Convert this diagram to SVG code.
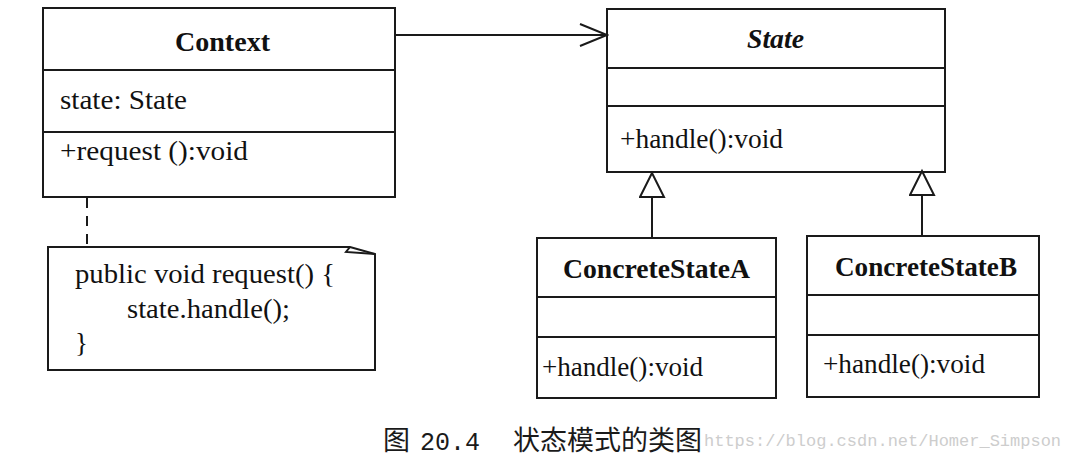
<svg xmlns="http://www.w3.org/2000/svg" width="1076" height="458" viewBox="0 0 1076 458">
<style>
.box{fill:none;stroke:#1a1a1a;stroke-width:2}
.ln{stroke:#1a1a1a;stroke-width:2;fill:none}
.t{font-family:"Liberation Serif","Times New Roman",serif;font-size:27px;fill:#111}
.b{font-weight:bold}
.i{font-style:italic}
.cap{font-family:"Noto Sans CJK SC",sans-serif;font-size:27px;fill:#1a1a1a}
.num{font-family:"Liberation Mono",monospace;font-size:25px;fill:#1a1a1a}
.wm{font-family:"Liberation Mono",monospace;font-size:17px;fill:#cdcdcd}
</style>
<defs>
<marker id="open" markerWidth="30" markerHeight="26" refX="28" refY="12" orient="auto" markerUnits="userSpaceOnUse">
<path d="M1,1 L28,12 L1,23" fill="none" stroke="#1a1a1a" stroke-width="2"/>
</marker>
<marker id="tri" markerWidth="28" markerHeight="28" refX="25" refY="13" orient="auto" markerUnits="userSpaceOnUse">
<path d="M1,1 L25,13 L1,25 Z" fill="#fff" stroke="#1a1a1a" stroke-width="2"/>
</marker>
</defs>
<rect width="1076" height="458" fill="#fff"/>

<g id="context">
<rect class="box" x="43" y="8" width="352" height="189"/>
<line class="ln" x1="43" y1="70" x2="395" y2="70"/>
<line class="ln" x1="43" y1="132" x2="395" y2="132"/>
<text class="t b" x="175" y="51" textLength="95" lengthAdjust="spacingAndGlyphs">Context</text>
<text class="t" x="60" y="109" textLength="127" lengthAdjust="spacingAndGlyphs">state: State</text>
<text class="t" x="60" y="160" textLength="188" lengthAdjust="spacingAndGlyphs">+request ():void</text>
</g>

<g id="state">
<rect class="box" x="607" y="9" width="338" height="163"/>
<line class="ln" x1="607" y1="68" x2="945" y2="68"/>
<line class="ln" x1="607" y1="106" x2="945" y2="106"/>
<text class="t b i" x="747" y="48" textLength="57" lengthAdjust="spacingAndGlyphs">State</text>
<text class="t" x="620" y="148" textLength="163" lengthAdjust="spacingAndGlyphs">+handle():void</text>
</g>

<g id="concreteStateA">
<rect class="box" x="537" y="238" width="239" height="160"/>
<line class="ln" x1="537" y1="297" x2="776" y2="297"/>
<line class="ln" x1="537" y1="337" x2="776" y2="337"/>
<text class="t b" x="563" y="278" textLength="187" lengthAdjust="spacingAndGlyphs">ConcreteStateA</text>
<text class="t" x="542" y="376" textLength="161" lengthAdjust="spacingAndGlyphs">+handle():void</text>
</g>

<g id="concreteStateB">
<rect class="box" x="807" y="236" width="232" height="161"/>
<line class="ln" x1="807" y1="295" x2="1039" y2="295"/>
<line class="ln" x1="807" y1="335" x2="1039" y2="335"/>
<text class="t b" x="835" y="276" textLength="182" lengthAdjust="spacingAndGlyphs">ConcreteStateB</text>
<text class="t" x="823" y="373" textLength="162" lengthAdjust="spacingAndGlyphs">+handle():void</text>
</g>

<g id="note">
<path class="ln" d="M48,247 L350,247 L375,254 L375,370 L48,370 Z"/>
<path class="ln" d="M350,247 L346,252 L375,254"/>
<text class="t" x="75" y="283" textLength="260" lengthAdjust="spacingAndGlyphs">public void request() {</text>
<text class="t" x="127" y="318" textLength="163" lengthAdjust="spacingAndGlyphs">state.handle();</text>
<text class="t" x="75" y="352">}</text>
</g>

<g id="connectors">
<line class="ln" x1="395" y1="35" x2="607" y2="35" marker-end="url(#open)"/>
<line class="ln" x1="652" y1="238" x2="652" y2="173" marker-end="url(#tri)"/>
<line class="ln" x1="922" y1="236" x2="922" y2="171" marker-end="url(#tri)"/>
<line class="ln" x1="87" y1="198" x2="87" y2="247" stroke-dasharray="10,8"/>
</g>

<g id="caption">
<text class="wm" x="704" y="446">https://blog.csdn.net/Homer_Simpson</text>
<text class="cap" x="383" y="450">图</text>
<text class="num" x="420" y="450">20.4</text>
<text class="cap" x="513" y="450">状态模式的类图</text>
</g>
</svg>
